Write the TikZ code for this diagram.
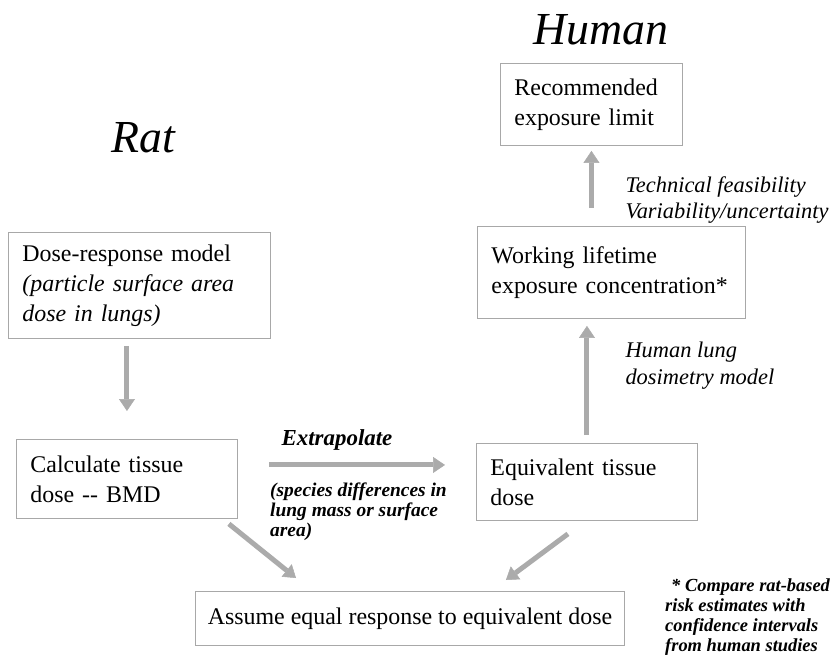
\documentclass[tikz,border=0pt]{standalone}
\usepackage{fontspec}
\setmainfont{Liberation Serif}
\usetikzlibrary{arrows.meta,positioning,calc}
\definecolor{frame}{HTML}{A8A8A8}
\definecolor{shade}{HTML}{ABABAB}

\begin{document}
\begin{tikzpicture}[x=1bp,y=-1bp,
  box/.style={draw=frame,line width=0.9bp,anchor=north west,inner xsep=14bp,inner ysep=0bp,
              align=left,font=\fontsize{24}{30}\selectfont},
  title/.style={font=\fontsize{46}{50}\selectfont\itshape},
  note/.style={anchor=west,align=left,font=\fontsize{22.5}{27}\selectfont\itshape},
  small/.style={anchor=north west,align=left,inner sep=0pt,font=\fontsize{19.5}{20}\selectfont\bfseries\itshape},
  fat/.style={draw=shade,line width=5bp,-{Triangle[width=16bp,length=12bp,line width=0.5bp,fill=shade]}}]
  \useasboundingbox (0,0) rectangle (837,671);
  \node[title] (human) at (601,30) {Human};
  \node[title] (rat) at (143,138) {Rat};
  \node[box,text width=154bp,minimum height=82bp] (rec) at (500,63) {Recommended\\exposure limit};
  \node[box,text width=240bp,minimum height=92bp] (work) at (477,226) {Working lifetime\\exposure concentration*};
  \node[box,text width=234bp,minimum height=106bp] (dose) at (8,232) {Dose-response model\\{\itshape (particle surface area\\dose in lungs)}};
  \node[box,text width=193bp,minimum height=79bp] (calc) at (16,439) {Calculate tissue\\dose -{}- BMD};
  \node[box,text width=193bp,minimum height=77bp] (equiv) at (476,443) {Equivalent tissue\\dose};
  \node[box,inner xsep=0bp,minimum width=429bp,minimum height=54bp,align=center] (assume) at (195,591) {Assume equal response to equivalent dose};
  \node[note] (tech) at (622,200) {Technical feasibility\\Variability/uncertainty};
  \node[note] (lung) at (622,366) {Human lung\\dosimetry model};
  \node[font=\fontsize{23}{26}\selectfont\bfseries\itshape] (extra) at (337,440) {Extrapolate};
  \node[small] (species) at (270,483) {(species differences in\\lung mass or surface\\area)};
  \node[small,font=\fontsize{18.5}{20}\selectfont\bfseries\itshape] (foot) at (665,579) {\hspace{6bp}* Compare rat-based\\risk estimates with\\confidence intervals\\from human studies};
  \draw[fat,shorten <=18bp,shorten >=5bp] (work.north -| rec.south) -- (rec.south);
  \draw[fat,shorten <=8bp,shorten >=7bp] (equiv.north) -- (equiv.north |- work.south);
  \draw[fat,shorten <=7bp,shorten >=28bp] (calc.north |- dose.south) -- (calc.north);
  \draw[fat,shorten <=31bp,shorten >=31bp] ([yshift=14bp]calc.east) -- ([yshift=14bp]calc.east -| equiv.west);
  \draw[fat] ($(calc.south east)+(-9,5)$) -- ($(assume.north west)+(101,-13)$);
  \draw[fat] ($(equiv.south)+(-19,13)$) -- ($(assume.north east)+(-119,-11)$);
\end{tikzpicture}
\end{document}
